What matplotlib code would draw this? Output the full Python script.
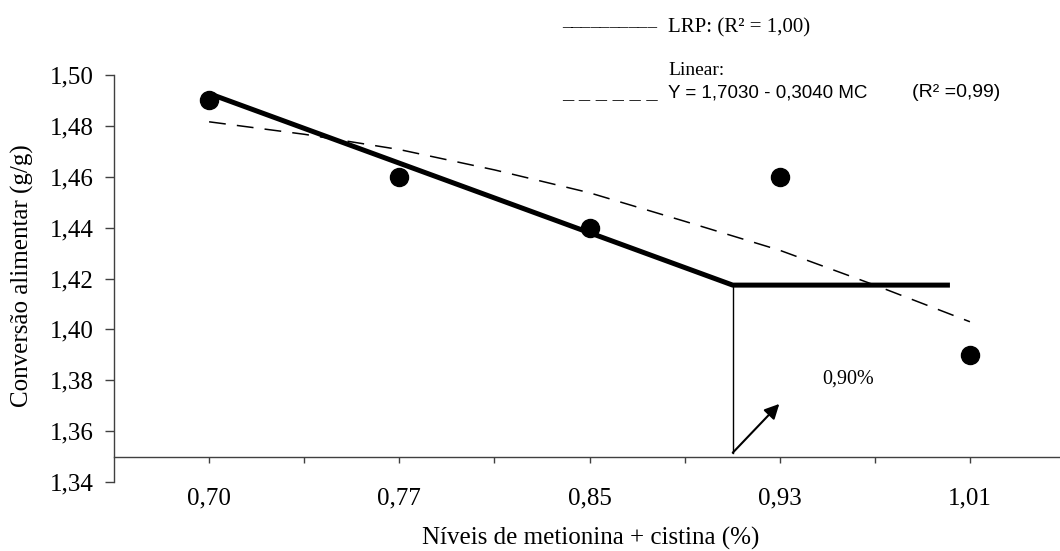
import matplotlib
matplotlib.use("Agg")
import matplotlib.pyplot as plt
from matplotlib.ticker import FixedLocator, FixedFormatter

# ---------------- data ----------------
levels = ["0,70", "0,77", "0,85", "0,93", "1,01"]          # Met+Cys levels (%)
level_pos = [0, 1, 2, 3, 4]                                 # category index on axis
observed = [1.49, 1.46, 1.44, 1.46, 1.39]                    # feed conversion (g/g)

# LRP (linear response plateau): start, break point (~0,90 %), plateau end
lrp_pos = [0.0, 2.753, 3.895]
lrp_val = [1.4927, 1.4174, 1.4174]

# dashed fitted curve
curve_pos = [0.0, 0.5, 1.0, 1.5, 2.0, 2.5, 3.0, 3.5, 4.0]
curve_val = [1.4816, 1.4767, 1.4707, 1.4627, 1.4537, 1.4425, 1.4311, 1.4174, 1.4030]

yticks = [1.34, 1.36, 1.38, 1.40, 1.42, 1.44, 1.46, 1.48, 1.50]
ytick_labels = ["1,34", "1,36", "1,38", "1,40", "1,42", "1,44", "1,46", "1,48", "1,50"]

break_label = "0,90%"
break_floor = 1.3515
arrow_tip = (2.998, 1.3707)

# ---------------- figure ----------------
W, H = 1060, 551
fig = plt.figure(figsize=(W / 100, H / 100), dpi=100)
serif = "Liberation Serif"
sans = "Liberation Sans"
axcol = "#404040"

ax = fig.add_axes([114 / W, (H - 482) / H, 951 / W, 407 / H])
ax.set_xlim(-0.5, 4.5)
ax.set_ylim(1.34, 1.50)

for s in ["top", "right"]:
    ax.spines[s].set_visible(False)
ax.spines["bottom"].set_position(("data", 1.35))
for s in ["left", "bottom"]:
    ax.spines[s].set_color(axcol)
    ax.spines[s].set_linewidth(1.0)

ax.yaxis.set_major_locator(FixedLocator(yticks))
ax.yaxis.set_major_formatter(FixedFormatter(ytick_labels))
ax.xaxis.set_major_locator(FixedLocator(level_pos))
ax.xaxis.set_major_formatter(FixedFormatter(levels))
ax.xaxis.set_minor_locator(FixedLocator([0.5, 1.5, 2.5, 3.5]))

ax.tick_params(axis="y", direction="out", length=6.6, width=1, color=axcol,
               pad=8, labelsize=18)
ax.tick_params(axis="x", which="both", direction="out", length=4.3, width=1,
               color=axcol)
ax.tick_params(axis="x", which="major", pad=18, labelsize=18)
for lab in ax.get_xticklabels() + ax.get_yticklabels():
    lab.set_fontfamily(serif)

# fitted curve (dashed)
ax.plot(curve_pos, curve_val, color="k", lw=1.1, linestyle=(0, (11, 7.3)))
# LRP
ax.plot(lrp_pos, lrp_val, color="k", lw=3.6, solid_capstyle="butt")
# observed points
ax.plot(level_pos, observed, "o", color="k", ms=13, zorder=5)

# break point marker
ax.plot([lrp_pos[1], lrp_pos[1]], [lrp_val[1], break_floor], color="k", lw=1.0)
ax.annotate("", xy=arrow_tip, xytext=(lrp_pos[1], break_floor),
            arrowprops=dict(arrowstyle="-|>", color="k", lw=1.5,
                            mutation_scale=22, shrinkA=0, shrinkB=0))
ax.text(3.36, 1.3806, break_label, ha="center", va="center",
        fontsize=14.5, fontfamily=serif)

# axis titles
fig.text(22 / W, 1 - 276 / H, "Conversão alimentar (g/g)", rotation=90,
         ha="center", va="center", fontsize=18, fontfamily=serif)
fig.text(591 / W, 1 - 538 / H, "Níveis de metionina + cistina (%)",
         ha="center", va="center", fontsize=18, fontfamily=serif)

# legend-like header
fig.text(562 / W, 1 - 26 / H, "__________", ha="left", va="baseline",
         fontsize=13.7, fontfamily=serif)
fig.text(668 / W, 1 - 32 / H, "LRP: (R² = 1,00)", ha="left", va="baseline",
         fontsize=15, fontfamily=serif)
fig.text(668 / W, 1 - 75 / H, "Linear:", ha="left", va="baseline",
         fontsize=14, fontfamily=serif)
fig.text(562 / W, 1 - 97 / H, "_ _ _ _ _ _", ha="left", va="baseline",
         fontsize=16, fontfamily=serif)
fig.text(668 / W, 1 - 97 / H, "Y = 1,7030 - 0,3040 MC", ha="left",
         va="baseline", fontsize=13.5, fontfamily=sans)
fig.text(912 / W, 1 - 97 / H, "(R² =0,99)", ha="left", va="baseline",
         fontsize=14, fontfamily=sans)

fig.savefig("out.png", dpi=100)
